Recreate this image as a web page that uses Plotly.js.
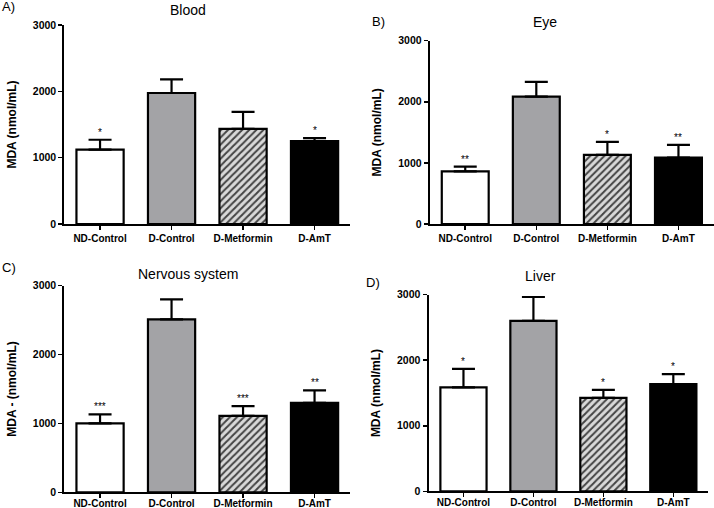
<!DOCTYPE html>
<html>
<head>
<meta charset="utf-8">
<script src="https://cdn.plot.ly/plotly-3.0.1.min.js"></script>
<style>html,body{margin:0;padding:0;background:#fff;}#chart{width:714px;height:508px;}</style>
</head>
<body>
<div id="chart"></div>
<script>
// ---- data ----
const categories = ["ND-Control", "D-Control", "D-Metformin", "D-AmT"];
const panelTitles = ["Blood", "Eye", "Nervous system", "Liver"];
const panelLetters = ["A)", "B)", "C)", "D)"];
const yTitles = ["MDA (nmol/mL)", "MDA (nmol/mL)", "MDA - (nmol/mL)", "MDA (nmol/mL)"];
const yTickVals = [0, 1000, 2000, 3000];

const bloodMean = [1120, 1975, 1435, 1250];
const bloodErr  = [150, 205, 255, 45];
const bloodSig  = ["*", "", "", "*"];

const eyeMean = [860, 2085, 1130, 1085];
const eyeErr  = [80, 240, 215, 210];
const eyeSig  = ["**", "", "*", "**"];

const nervousMean = [1000, 2510, 1110, 1300];
const nervousErr  = [132, 290, 142, 180];
const nervousSig  = ["***", "", "***", "**"];

const liverMean = [1585, 2600, 1425, 1635];
const liverErr  = [282, 365, 122, 153];
const liverSig  = ["*", "", "*", "*"];

// ---- styling ----
const FONT = "Liberation Sans, Arial, sans-serif";
const fills = ["#ffffff", "#a3a3a6", "#d9d9d9", "#000000"];
const patterns = ["", "", "/", ""];
const patternFg = ["#000000", "#000000", "#000000", "#000000"];

const panels = [
  {mean: bloodMean, err: bloodErr, sig: bloodSig},
  {mean: eyeMean, err: eyeErr, sig: eyeSig},
  {mean: nervousMean, err: nervousErr, sig: nervousSig},
  {mean: liverMean, err: liverErr, sig: liverSig}
];

const W = 714, H = 508;
// pixel boxes [x0, x1, yTop, yBottom]
const boxes = [
  [64.3, 350.3, 25, 224],
  [429.7, 714, 40.7, 224],
  [64.3, 350.3, 285.7, 492.3],
  [428.5, 708.3, 294.7, 491.3]
];
const labelStandoff = [0, 0, -3, -3];
const titlePos = [[188, 10], [545, 21.7], [188, 274], [540, 276]];
const letterPos = [[0, 7], [370, 21], [0, 267], [364, 282]];

const data = [];
const layout = {
  width: W, height: H,
  margin: {l: 0, r: 0, t: 0, b: 0},
  paper_bgcolor: "#fff", plot_bgcolor: "#fff",
  showlegend: false,
  font: {family: FONT, color: "#000"},
  annotations: [],
  bargap: 0.34
};

panels.forEach((p, i) => {
  const n = i + 1;
  const xa = "x" + (n === 1 ? "" : n), ya = "y" + (n === 1 ? "" : n);
  data.push({
    type: "bar",
    x: categories,
    y: p.mean,
    xaxis: xa, yaxis: ya,
    width: 0.66,
    marker: {
      color: fills,
      line: {color: "#000", width: 2.2},
      pattern: {shape: patterns, fillmode: "overlay", fgcolor: patternFg, fgopacity: 1, size: 5, solidity: 0.4}
    },
    error_y: {type: "data", array: p.err, arrayminus: p.err.map(() => 0), symmetric: false,
              color: "#000", thickness: 2.2, width: 11.5},
    hoverinfo: "skip"
  });
  const b = boxes[i];
  const xkey = "xaxis" + (n === 1 ? "" : n), ykey = "yaxis" + (n === 1 ? "" : n);
  layout[xkey] = {
    domain: [b[0] / W, b[1] / W],
    anchor: ya,
    type: "category",
    range: [-0.5, 3.5],
    showline: true, linecolor: "#000", linewidth: 2,
    ticks: "outside", ticklen: 4, tickwidth: 1.5, tickcolor: "#000",
    ticklabelstandoff: labelStandoff[i],
    tickfont: {family: FONT, size: 10, weight: "bold", color: "#000"},
    showgrid: false, zeroline: false, fixedrange: true
  };
  layout[ykey] = {
    domain: [1 - b[3] / H, 1 - b[2] / H],
    anchor: xa,
    range: [0, 3000],
    tickvals: yTickVals,
    ticktext: yTickVals.map(String),
    showline: true, linecolor: "#000", linewidth: 2,
    ticks: "outside", ticklen: 4, tickwidth: 1.5, tickcolor: "#000",
    tickfont: {family: FONT, size: 10.5, weight: "bold", color: "#000"},
    showgrid: false, zeroline: false, fixedrange: true,
    title: {text: yTitles[i], font: {family: FONT, size: 12, weight: "bold", color: "#000"}, standoff: 14}
  };
  // significance markers
  p.sig.forEach((s, j) => {
    if (!s) return;
    layout.annotations.push({
      xref: xa, yref: ya, x: categories[j], y: p.mean[j] + p.err[j],
      text: s, showarrow: false, yanchor: "bottom", yshift: 0,
      font: {family: FONT, size: 10, color: "#000"}
    });
  });
  // panel title
  layout.annotations.push({
    xref: "paper", yref: "paper", x: titlePos[i][0] / W, y: 1 - titlePos[i][1] / H,
    text: panelTitles[i], showarrow: false, xanchor: "center", yanchor: "middle",
    font: {family: FONT, size: 14, color: "#000"}
  });
  // panel letter
  layout.annotations.push({
    xref: "paper", yref: "paper", x: letterPos[i][0] / W, y: 1 - letterPos[i][1] / H,
    text: panelLetters[i], showarrow: false, xanchor: "left", yanchor: "middle",
    font: {family: FONT, size: 13, color: "#000"}
  });
});

Plotly.newPlot("chart", data, layout, {displayModeBar: false, staticPlot: true});
</script>
</body>
</html>
